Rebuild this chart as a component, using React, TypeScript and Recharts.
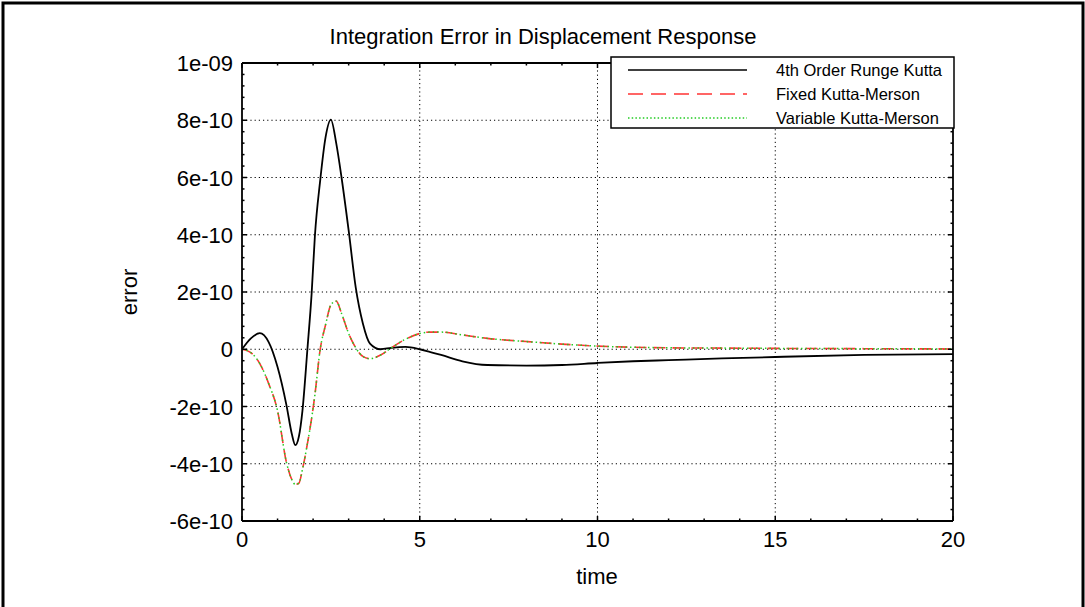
import React from 'react';
import { LineChart, Line, XAxis, YAxis, ReferenceLine } from 'recharts';

// error values are in units of 1e-10
const time = [0, 0.25, 0.5, 0.75, 1, 1.25, 1.4, 1.5, 1.6, 1.7, 1.84, 1.96, 2.05, 2.2, 2.35, 2.5, 2.65, 2.8, 3, 3.2, 3.4, 3.6, 3.9, 4.2, 4.6, 5, 5.3, 5.6, 6.2, 6.9, 8, 9, 10, 11, 12, 13.5, 15, 17.5, 20];
const rungeKutta4 = [0, 0.38, 0.56, 0.25, -0.62, -1.95, -2.95, -3.35, -3.05, -2.15, 0, 1.97, 3.95, 5.9, 7.4, 8.02, 7.2, 6.0, 4.15, 2.15, 0.9, 0.2, 0, 0.05, 0.08, 0, -0.1, -0.2, -0.42, -0.55, -0.57, -0.55, -0.48, -0.42, -0.38, -0.32, -0.27, -0.2, -0.17];
const fixedKuttaMerson = [0, -0.12, -0.5, -1.2, -2.15, -3.95, -4.55, -4.72, -4.68, -4.2, -3.3, -2.4, -1.6, 0, 0.85, 1.55, 1.68, 1.25, 0.55, 0.05, -0.25, -0.33, -0.2, 0.05, 0.35, 0.55, 0.6, 0.6, 0.5, 0.38, 0.27, 0.18, 0.11, 0.07, 0.05, 0.04, 0.03, 0.02, 0.01];
const variableKuttaMerson = [0, -0.12, -0.5, -1.2, -2.15, -3.95, -4.55, -4.72, -4.68, -4.2, -3.3, -2.4, -1.6, 0, 0.85, 1.55, 1.68, 1.25, 0.55, 0.05, -0.25, -0.33, -0.2, 0.05, 0.35, 0.55, 0.6, 0.6, 0.5, 0.38, 0.27, 0.18, 0.11, 0.07, 0.05, 0.04, 0.03, 0.02, 0.01];

const xTickLabels = ['0', '5', '10', '15', '20'];
const yTickLabels = ['-6e-10', '-4e-10', '-2e-10', '0', '2e-10', '4e-10', '6e-10', '8e-10', '1e-09'];
const xGrid = [5, 10, 15];
const yGrid = [-4, -2, 0, 2, 4, 6, 8];

const legendItems = [
  { label: '4th Order Runge Kutta', color: '#000000', dash: undefined as string | undefined },
  { label: 'Fixed Kutta-Merson', color: '#ff3333', dash: '15 8' },
  { label: 'Variable Kutta-Merson', color: '#22cc22', dash: '1.5 2.2' },
];

const data = time.map((t, i) => ({
  t,
  rk4: rungeKutta4[i],
  fixed: fixedKuttaMerson[i],
  variable: variableKuttaMerson[i],
}));

const W = 1085;
const H = 607;
const PLOT = { left: 242, right: 953, top: 63, bottom: 521 };
const FONT = '"Liberation Sans", Arial, sans-serif';

// minor ticks every 1 (x) and every 0.4 (y), majors every 5th
const xTicks = Array.from({ length: 21 }, (_, i) => i);
const yTicks = Array.from({ length: 41 }, (_, i) => -6 + i * 0.4);

const XTick = ({ x, y, index }: any) => {
  const major = index % 5 === 0;
  const len = major ? 5 : 2.5;
  return (
    <g>
      <line x1={x} y1={y} x2={x} y2={y - len} stroke="#000" strokeWidth={1.5} />
      <line x1={x} y1={PLOT.top} x2={x} y2={PLOT.top + len} stroke="#000" strokeWidth={1.5} />
      {major && (
        <text x={x} y={y + 26} textAnchor="middle" fontSize={22} fontFamily={FONT} fill="#000">
          {xTickLabels[index / 5]}
        </text>
      )}
    </g>
  );
};

const YTick = ({ x, y, index }: any) => {
  const major = index % 5 === 0;
  const len = major ? 5 : 2.5;
  return (
    <g>
      <line x1={x} y1={y} x2={x + len} y2={y} stroke="#000" strokeWidth={1.5} />
      <line x1={PLOT.right} y1={y} x2={PLOT.right - len} y2={y} stroke="#000" strokeWidth={1.5} />
      {major && (
        <text x={x - 9} y={y + 8} textAnchor="end" fontSize={22} fontFamily={FONT} fill="#000">
          {yTickLabels[index / 5]}
        </text>
      )}
    </g>
  );
};

export default function App() {
  return (
    <div style={{ position: 'absolute', left: 0, top: 0, width: W, height: H, background: '#fff', overflow: 'hidden' }}>
      <LineChart
        width={W}
        height={H}
        data={data}
        margin={{ top: PLOT.top, right: W - PLOT.right, bottom: H - PLOT.bottom - 30, left: PLOT.left - 60 }}
      >
        {xGrid.map((v) => (
          <ReferenceLine key={'gx' + v} x={v} stroke="#000" strokeWidth={1} strokeDasharray="1.2 3" />
        ))}
        {yGrid.map((v) => (
          <ReferenceLine key={'gy' + v} y={v} stroke="#000" strokeWidth={1} strokeDasharray="1.2 3" />
        ))}
        <ReferenceLine x={20} stroke="#000" strokeWidth={1.8} />
        <ReferenceLine y={10} stroke="#000" strokeWidth={1.8} />
        <XAxis
          dataKey="t"
          type="number"
          domain={[0, 20]}
          ticks={xTicks}
          interval={0}
          height={30}
          tickSize={0}
          tickMargin={0}
          tickLine={false}
          axisLine={{ stroke: '#000', strokeWidth: 1.8 }}
          tick={<XTick />}
          allowDataOverflow
        />
        <YAxis
          type="number"
          domain={[-6, 10]}
          ticks={yTicks}
          interval={0}
          width={60}
          tickSize={0}
          tickMargin={0}
          tickLine={false}
          axisLine={{ stroke: '#000', strokeWidth: 1.8 }}
          tick={<YTick />}
          allowDataOverflow
        />
        <Line type="monotone" dataKey="rk4" stroke="#000" strokeWidth={1.8} dot={false} isAnimationActive={false} />
        <Line type="monotone" dataKey="fixed" stroke="#ff3333" strokeWidth={1.6} strokeDasharray="12 7" dot={false} isAnimationActive={false} />
        <Line type="monotone" dataKey="variable" stroke="#22cc22" strokeWidth={1.5} strokeDasharray="1.5 3" dot={false} isAnimationActive={false} />
      </LineChart>

      <svg width={W} height={H} style={{ position: 'absolute', left: 0, top: 0, pointerEvents: 'none' }}>
        {/* outer frame */}
        <rect x={3} y={3} width={1080} height={640} fill="none" stroke="#000" strokeWidth={3} />

        <text x={543} y={44} textAnchor="middle" fontSize={22} fontFamily={FONT} fill="#000">
          Integration Error in Displacement Response
        </text>
        <text x={597} y={584} textAnchor="middle" fontSize={22} fontFamily={FONT} fill="#000">
          time
        </text>
        <text x={137} y={292} textAnchor="middle" fontSize={22} fontFamily={FONT} fill="#000" transform="rotate(-90 137 292)">
          error
        </text>

        {/* legend */}
        <rect x={611} y={57} width={343} height={71} fill="#fff" stroke="#000" strokeWidth={1.5} />
        {legendItems.map((it, i) => {
          const ry = 70 + i * 24;
          return (
            <g key={it.label}>
              <line x1={628} y1={ry} x2={747} y2={ry} stroke={it.color} strokeWidth={1.5} strokeDasharray={it.dash} />
              <text x={776} y={ry + 6} fontSize={16.5} fontFamily={FONT} fill="#000">
                {it.label}
              </text>
            </g>
          );
        })}
      </svg>
    </div>
  );
}
